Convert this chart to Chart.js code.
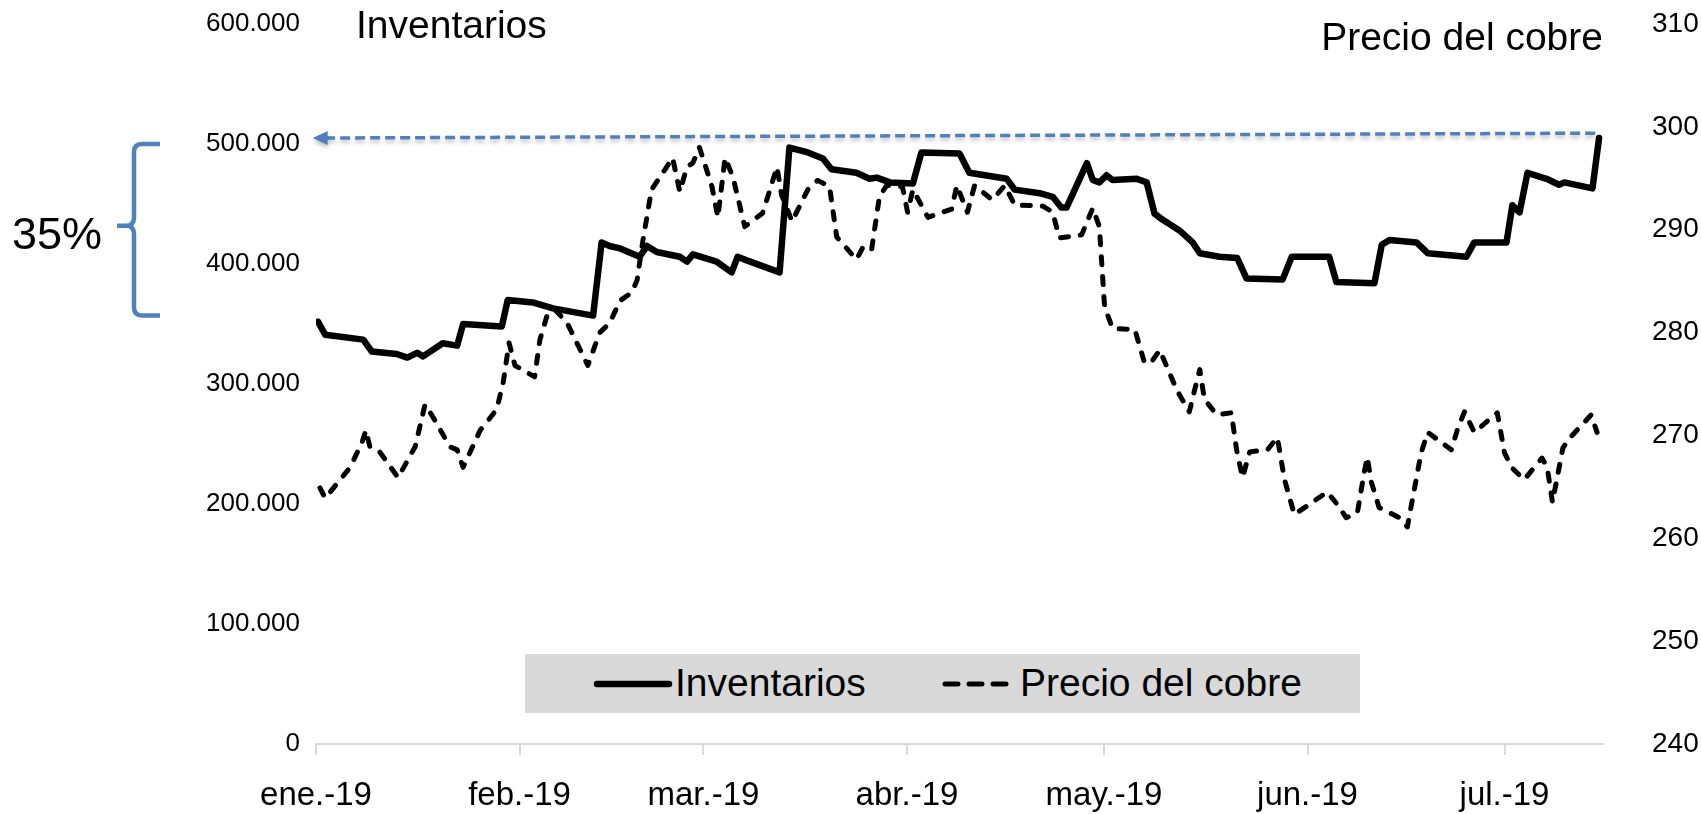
<!DOCTYPE html>
<html>
<head>
<meta charset="utf-8">
<script src="https://cdn.jsdelivr.net/npm/chart.js@4.4.0/dist/chart.umd.min.js"></script>
<style>
  body { margin: 0; background: #fff; }
  #wrap { position: relative; width: 1701px; height: 814px; font-family: "Liberation Sans", Arial, sans-serif; }
  #chart { position: absolute; left: 0; top: 0; }
  .txt { position: absolute; white-space: nowrap; color: #000; line-height: 1; }
  #legend { position: absolute; left: 525px; top: 654px; width: 835px; height: 59px; background: #d9d9d9; }
</style>
</head>
<body>
<div id="wrap">
  <canvas id="chart" width="1701" height="814"></canvas>
  <div class="txt" style="left:356px; top:5px; font-size:39px;">Inventarios</div>
  <div class="txt" style="right:98px; top:17px; font-size:39px;">Precio del cobre</div>
  <div class="txt" style="left:12px; top:211px; font-size:45px;">35%</div>
  <div id="legend">
    <svg style="position:absolute; left:66px; top:24px;" width="85" height="12">
      <line x1="6" y1="6" x2="78" y2="6" stroke="#000" stroke-width="6.5" stroke-linecap="round"/>
    </svg>
    <div class="txt" style="left:150px; top:9px; font-size:39px;">Inventarios</div>
    <svg style="position:absolute; left:415px; top:24px;" width="75" height="12">
      <line x1="5" y1="6" x2="70" y2="6" stroke="#000" stroke-width="5" stroke-linecap="round" stroke-dasharray="13 11"/>
    </svg>
    <div class="txt" style="left:495px; top:9px; font-size:39px;">Precio del cobre</div>
  </div>
</div>
<script>
// eje x: días desde el 1 de enero de 2019
const monthTicks = [0, 31, 59, 90, 120, 151, 181];
const monthLabels = ['ene.-19', 'feb.-19', 'mar.-19', 'abr.-19', 'may.-19', 'jun.-19', 'jul.-19'];

// Inventarios (toneladas)
const invDays = [0.3, 1.4, 7.2, 8.5, 12.3, 13.9, 15.4, 16.3, 19.3, 21.5, 22.4, 28.3, 29.2, 33.0, 36.1, 42.2,
  43.5, 44.7, 46.3, 49.3, 50.4, 51.9, 55.4, 56.5, 57.4, 61.0, 63.3, 64.2, 65.6, 70.6, 72.1, 74.9,
  77.2, 78.5, 82.3, 84.3, 85.4, 87.4, 90.9, 92.2, 98.0, 99.5, 105.2, 106.4, 110.2, 112.2, 113.5,
  114.3, 117.4, 118.3, 119.3, 120.4, 121.3, 125.0, 126.5, 127.7, 128.9, 131.5, 133.5, 134.6, 137.6,
  140.3, 141.7, 147.2, 148.6, 154.3, 155.4, 161.2, 162.3, 163.5, 167.6, 169.3, 173.1, 175.2, 176.4,
  181.3, 182.2, 183.3, 184.5, 187.4, 189.3, 190.1, 194.4, 195.4];
const invValues = [352000, 341000, 337000, 327000, 325000, 322000, 326000, 323000, 334000, 332000, 350000,
  348000, 370000, 368000, 363000, 357000, 418000, 415000, 413000, 406000, 415000, 410000, 406000, 402000,
  408000, 402000, 393000, 406000, 403000, 393000, 497000, 493000, 488000, 479000, 476000, 471000, 472000,
  468000, 467000, 493000, 492000, 476000, 471000, 462000, 459000, 456000, 447000, 447000, 484000, 470000,
  468000, 474000, 470000, 471000, 468000, 442000, 437000, 428000, 418000, 409000, 406000, 405000, 388000,
  387000, 406000, 406000, 385000, 384000, 416000, 420000, 418000, 409000, 407000, 406000, 418000, 418000,
  449000, 443000, 476000, 471000, 466000, 468000, 463000, 505000];

// Precio del cobre (centavos por libra)
const priceDays = [0.6, 1.4, 5.2, 7.0, 7.6, 8.2, 9.7, 12.5, 15.1, 16.6, 17.8, 20.4, 21.5, 22.4, 25.0, 27.5,
  28.5, 29.4, 30.3, 33.3, 34.1, 35.3, 36.4, 38.2, 41.4, 43.2, 44.7, 46.3, 48.1, 48.9, 49.8, 51.1, 53.1,
  54.3, 55.4, 56.5, 57.4, 58.4, 60.3, 61.2, 62.3, 63.5, 65.3, 68.0, 68.8, 70.2, 70.9, 72.5, 74.9, 76.4,
  78.2, 79.3, 82.3, 83.3, 84.6, 85.8, 86.9, 89.3, 90.1, 90.9, 93.2, 96.8, 97.6, 99.2, 100.3, 103.0,
  104.9, 106.4, 110.7, 112.2, 113.2, 116.6, 118.3, 119.3, 120.1, 121.3, 124.7, 126.2, 127.4, 128.5,
  131.1, 133.0, 133.8, 134.6, 135.3, 137.2, 139.4, 140.2, 141.1, 142.2, 144.9, 146.4, 147.5, 149.0,
  154.0, 155.4, 156.9, 158.6, 159.6, 160.1, 160.7, 161.9, 165.0, 166.2, 168.3, 169.3, 172.9, 173.8,
  174.9, 176.4, 179.9, 181.0, 182.2, 184.0, 186.7, 187.5, 188.3, 189.9, 191.3, 194.2, 195.1];
const priceValues = [264.9, 263.9, 266.9, 269.3, 270.5, 268.9, 268.4, 265.9, 268.9, 273.0, 271.8, 268.9,
  268.6, 266.9, 270.5, 272.5, 275.1, 279.0, 276.8, 275.7, 279.3, 281.9, 282.2, 281.0, 276.8, 280.0, 280.9,
  283.1, 283.9, 285.1, 289.0, 293.9, 295.8, 297.0, 293.7, 296.1, 296.5, 298.0, 294.2, 291.2, 297.0, 295.1,
  290.3, 291.6, 293.2, 296.1, 293.4, 290.8, 293.9, 294.8, 294.2, 289.3, 287.1, 288.3, 288.0, 293.2, 294.3,
  294.2, 291.7, 293.9, 291.2, 292.0, 294.3, 291.7, 294.3, 292.9, 294.3, 292.4, 292.3, 291.7, 289.2, 289.5,
  292.1, 290.3, 282.5, 280.4, 280.3, 277.0, 277.3, 278.3, 274.4, 272.3, 274.4, 276.4, 273.5, 272.0, 272.2,
  268.6, 265.9, 268.4, 268.6, 269.8, 265.7, 262.3, 264.5, 263.4, 262.0, 262.5, 266.3, 267.9, 265.5, 263.0,
  262.0, 261.1, 268.3, 270.3, 268.6, 270.5, 272.3, 270.3, 272.2, 268.3, 266.8, 265.7, 267.8, 266.9, 263.5,
  268.8, 270.0, 272.0, 270.3];

// anotaciones: flecha a nivel de 500.000 y llave del 35%
const arrowStart = { day: 194.8, value: 509000 };
const arrowEnd = { day: -0.5, value: 505000 };
const braceTop = 500000;
const braceBottom = 357000;
const annotBlue = '#4f81bd';

const fontFamily = '"Liberation Sans", Arial, sans-serif';

function fmtMiles(v) {
  return String(v).replace(/\B(?=(\d{3})+(?!\d))/g, '.');
}

// los ejes verticales no deben empujar el área del gráfico
function fixVertical(width) {
  return (scale) => {
    scale.width = width;
    scale.paddingTop = 0;
    scale.paddingBottom = 0;
  };
}

const annotations = {
  id: 'annotations',
  afterDatasetsDraw(chart) {
    const { ctx } = chart;
    const xs = chart.scales.x, ys = chart.scales.y;

    // flecha punteada
    const x1 = xs.getPixelForValue(arrowStart.day), y1 = ys.getPixelForValue(arrowStart.value);
    const x2 = xs.getPixelForValue(arrowEnd.day), y2 = ys.getPixelForValue(arrowEnd.value);
    ctx.save();
    ctx.shadowColor = 'rgba(0,0,0,0.25)';
    ctx.shadowBlur = 4;
    ctx.shadowOffsetY = 3;
    ctx.strokeStyle = annotBlue;
    ctx.lineWidth = 3.5;
    ctx.setLineDash([10, 5]);
    ctx.beginPath();
    ctx.moveTo(x1, y1);
    ctx.lineTo(x2 + 14, y2);
    ctx.stroke();
    ctx.setLineDash([]);
    ctx.fillStyle = annotBlue;
    ctx.beginPath();
    ctx.moveTo(x2, y2);
    ctx.lineTo(x2 + 15, y2 - 7);
    ctx.lineTo(x2 + 15, y2 + 7);
    ctx.closePath();
    ctx.fill();
    ctx.restore();

    // llave
    const yt = ys.getPixelForValue(braceTop), yb = ys.getPixelForValue(braceBottom);
    const ym = (yt + yb) / 2 - 4;
    const xv = 134;
    ctx.save();
    ctx.strokeStyle = annotBlue;
    ctx.lineWidth = 4.5;
    ctx.beginPath();
    ctx.moveTo(160, yt);
    ctx.lineTo(142, yt);
    ctx.quadraticCurveTo(xv, yt, xv, yt + 8);
    ctx.lineTo(xv, ym - 8);
    ctx.quadraticCurveTo(xv, ym, xv - 8, ym);
    ctx.lineTo(xv - 17, ym);
    ctx.moveTo(xv - 8, ym);
    ctx.quadraticCurveTo(xv, ym, xv, ym + 8);
    ctx.lineTo(xv, yb - 8);
    ctx.quadraticCurveTo(xv, yb, 142, yb);
    ctx.lineTo(160, yb);
    ctx.stroke();
    ctx.restore();
  }
};

new Chart(document.getElementById('chart'), {
  type: 'line',
  data: {
    datasets: [
      {
        label: 'Inventarios',
        data: invDays.map((d, i) => ({ x: d, y: invValues[i] })),
        yAxisID: 'y',
        borderColor: '#000',
        borderWidth: 6.5,
        borderJoinStyle: 'round',
        borderCapStyle: 'round',
        pointRadius: 0,
        tension: 0
      },
      {
        label: 'Precio del cobre',
        data: priceDays.map((d, i) => ({ x: d, y: priceValues[i] })),
        yAxisID: 'y2',
        borderColor: '#000',
        borderWidth: 5,
        borderDash: [8, 12],
        borderJoinStyle: 'round',
        borderCapStyle: 'round',
        pointRadius: 0,
        tension: 0
      }
    ]
  },
  options: {
    responsive: false,
    animation: false,
    layout: { padding: { top: 24, left: 0, right: 0, bottom: 0 } },
    plugins: { legend: { display: false }, tooltip: { enabled: false } },
    scales: {
      x: {
        type: 'linear',
        min: 0,
        max: 196,
        afterBuildTicks: (scale) => { scale.ticks = monthTicks.map(v => ({ value: v })); },
        afterFit: (scale) => { scale.height = 70; },
        grid: { drawOnChartArea: false, drawTicks: true, tickLength: 11, color: '#d9d9d9', lineWidth: 2 },
        border: { display: true, color: '#d9d9d9', width: 2 },
        ticks: {
          autoSkip: false,
          maxRotation: 0,
          padding: 21,
          color: '#000',
          font: { family: fontFamily, size: 33 },
          callback: (value) => monthLabels[monthTicks.indexOf(value)] ?? ''
        }
      },
      y: {
        position: 'left',
        min: 0,
        max: 600000,
        afterFit: fixVertical(316),
        grid: { display: false, drawTicks: false },
        border: { display: false },
        ticks: {
          stepSize: 100000,
          padding: 16,
          color: '#000',
          font: { family: fontFamily, size: 26 },
          callback: (v) => fmtMiles(v)
        }
      },
      y2: {
        position: 'right',
        min: 240,
        max: 310,
        afterFit: fixVertical(98),
        grid: { display: false, drawTicks: false },
        border: { display: false },
        ticks: {
          stepSize: 10,
          padding: 49,
          color: '#000',
          font: { family: fontFamily, size: 28 }
        }
      }
    }
  },
  plugins: [annotations]
});
</script>
</body>
</html>
